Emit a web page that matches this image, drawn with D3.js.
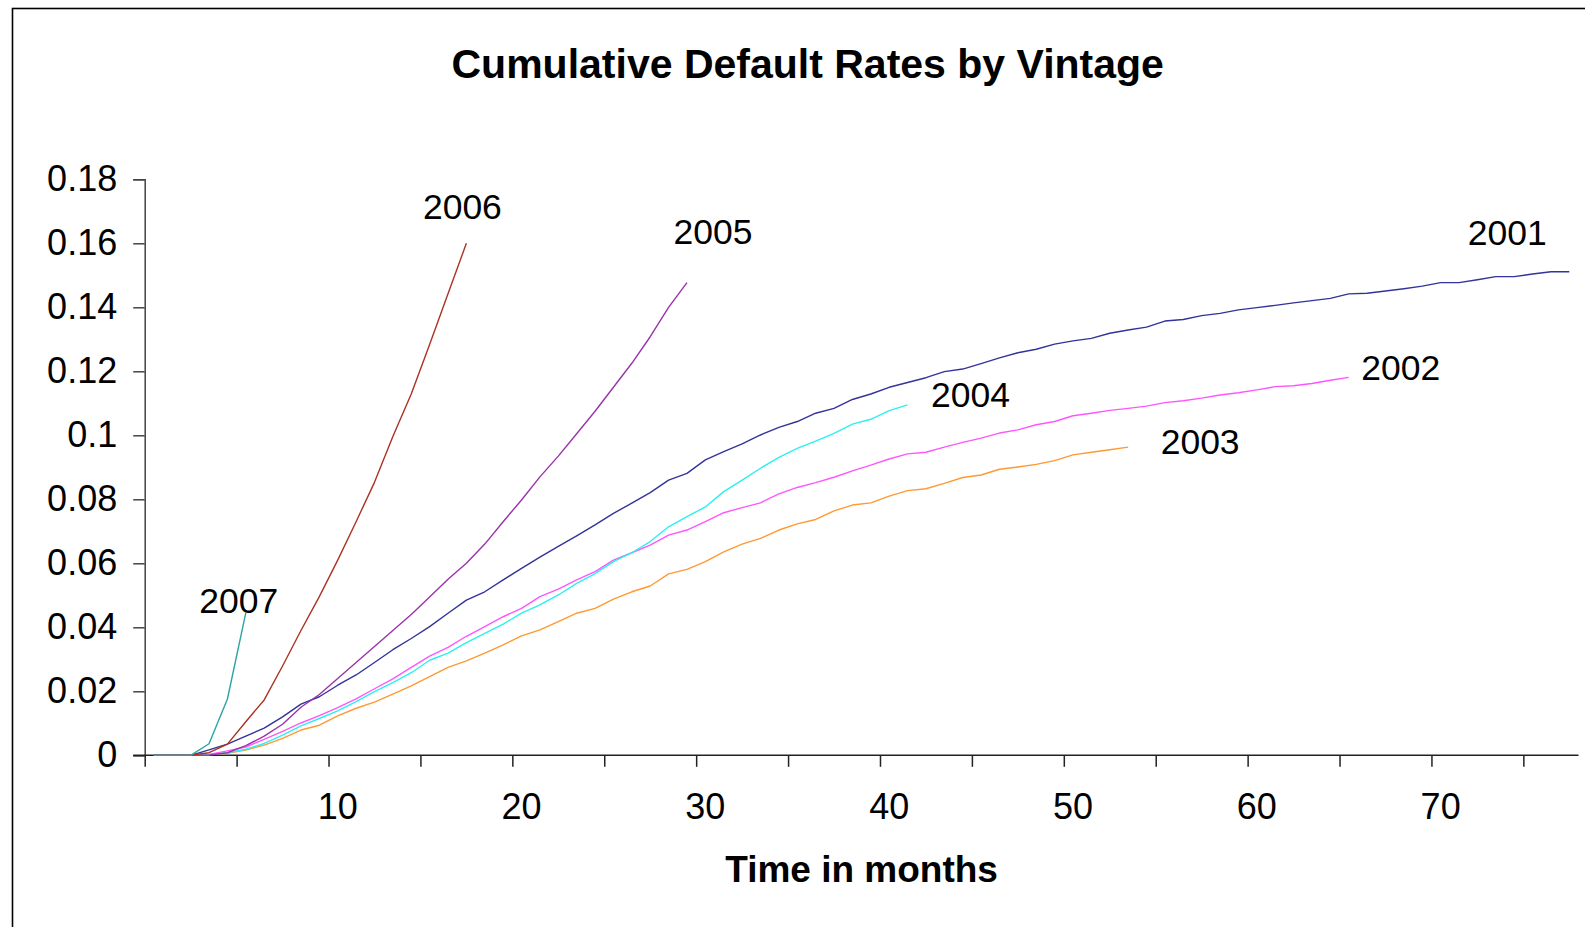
<!DOCTYPE html>
<html>
<head>
<meta charset="utf-8">
<script src="https://cdn.jsdelivr.net/npm/d3@7"></script>
<style>
  html, body { margin: 0; padding: 0; background: #ffffff; }
  svg { display: block; }
  text { font-family: "Liberation Sans", Arial, sans-serif; fill: #000; }
</style>
</head>
<body>
<svg id="chart" width="1585" height="927"></svg>
<script>
// Months on book (category axis)
const months = d3.range(0, 78);
const monthLabels = [10, 20, 30, 40, 50, 60, 70];
const monthTicks = [0, 5, 10, 15, 20, 25, 30, 35, 40, 45, 50, 55, 60, 65, 70, 75];
const rateTicks = [0, 0.02, 0.04, 0.06, 0.08, 0.1, 0.12, 0.14, 0.16, 0.18];
const rateTickLabels = ["0", "0.02", "0.04", "0.06", "0.08", "0.1", "0.12", "0.14", "0.16", "0.18"];

const vintages = ["2001", "2002", "2003", "2004", "2005", "2006", "2007"];

// Cumulative default rate per month, one array per vintage
const v2001 = [0,0,0,0.0017,0.0035,0.006,0.0085,0.012,0.016,0.0183,
  0.0219,0.0251,0.029,0.033,0.0365,0.0402,0.0444,0.0485,0.0511,0.0548,
  0.0584,0.0619,0.0653,0.0686,0.072,0.0756,0.0788,0.0821,0.086,0.0881,
  0.0923,0.0949,0.0973,0.1001,0.1025,0.1043,0.1069,0.1084,0.1112,0.1129,
  0.115,0.1165,0.118,0.1199,0.1207,0.1224,0.1242,0.1258,0.1269,0.1285,
  0.1295,0.1303,0.1319,0.1329,0.1338,0.1357,0.1362,0.1374,0.1381,0.1392,
  0.1399,0.1406,0.1414,0.1421,0.1428,0.1442,0.1444,0.1451,0.1458,0.1466,
  0.1477,0.1477,0.1486,0.1496,0.1496,0.1504,0.1511,0.1511];
const v2002 = [0,0,0,0.0003,0.0014,0.0026,0.005,0.0075,0.0101,0.0124,
  0.0149,0.0176,0.0208,0.0239,0.0275,0.031,0.0337,0.0372,0.0402,0.0433,
  0.0459,0.0496,0.0519,0.0548,0.0574,0.061,0.0633,0.0657,0.0688,0.0704,
  0.073,0.0758,0.0774,0.0789,0.0817,0.0837,0.0852,0.0869,0.0889,0.0907,
  0.0926,0.0942,0.0947,0.0963,0.0978,0.0991,0.1007,0.1017,0.1033,0.1043,
  0.1061,0.1069,0.1078,0.1084,0.1091,0.1102,0.1108,0.1116,0.1126,0.1133,
  0.1142,0.1152,0.1155,0.1162,0.1172,0.1181];
const v2003 = [0,0,0,0.0002,0.0006,0.0016,0.0032,0.0053,0.0079,0.0094,
  0.0123,0.0147,0.0166,0.0191,0.0217,0.0246,0.0275,0.0295,0.0319,0.0345,
  0.0373,0.0392,0.0418,0.0444,0.0459,0.0488,0.0511,0.0529,0.0567,0.0581,
  0.0605,0.0636,0.066,0.0678,0.0704,0.0723,0.0737,0.0764,0.0782,0.0789,
  0.081,0.0827,0.0833,0.085,0.0868,0.0876,0.0894,0.0901,0.0909,0.0921,
  0.0939,0.0947,0.0955,0.0963];
const v2004 = [0,0,0,0.0002,0.0008,0.0019,0.0037,0.0063,0.0092,0.0115,
  0.0139,0.0168,0.0199,0.0227,0.0258,0.0297,0.0319,0.0352,0.0381,0.041,
  0.0444,0.047,0.0501,0.0537,0.0568,0.0605,0.0633,0.0668,0.0714,0.0746,
  0.0776,0.0824,0.086,0.0897,0.0931,0.0959,0.0982,0.1006,0.1035,0.105,
  0.1077,0.1095];
const v2005 = [0,0,0,0.0001,0.0008,0.003,0.006,0.0097,0.015,0.019,
  0.024,0.029,0.034,0.039,0.044,0.0495,0.055,0.06,0.066,0.073,
  0.0798,0.087,0.0935,0.1005,0.1075,0.115,0.1225,0.1308,0.14,0.1477];
const v2006 = [0,0,0,0.0008,0.0035,0.0105,0.0173,0.0279,0.039,0.0496,
  0.061,0.073,0.0853,0.0996,0.1129,0.1284,0.1442,0.16];
const v2007 = [0,0,0,0.0036,0.0176,0.0445];

const seriesValues = [v2001, v2002, v2003, v2004, v2005, v2006, v2007];

// Styling
const colors = ["#333399", "#ff55ff", "#ff9933", "#2cf0f0", "#9933aa", "#aa3322", "#2aa5a5"];
// Year label placement relative to each line's last point (pixels)
const labelOffsets = [[-62, -39], [52, -10], [72, -6], [63, -10], [26, -51], [-4, -37], [-7, -12]];

const svg = d3.select("#chart");

// Outer chart frame
svg.append("rect")
  .attr("x", 12.5).attr("y", 8.5)
  .attr("width", 1700).attr("height", 1000)
  .attr("fill", "#fff").attr("stroke", "#000").attr("stroke-width", 1.6);

const plot = { left: 144.7, right: 1578.5, top: 179.3, bottom: 755.3 };

const x = d3.scaleBand().domain(months).range([plot.left, plot.right]).padding(0);
const xEdge = d3.scaleLinear().domain([0, months.length]).range([plot.left, plot.right]);
const y = d3.scaleLinear().domain([0, 0.18]).range([plot.bottom, plot.top]);

// Title
svg.append("text")
  .attr("x", 807.7).attr("y", 78)
  .attr("text-anchor", "middle")
  .style("font-size", "41px").style("font-weight", "bold")
  .text("Cumulative Default Rates by Vintage");

// Y axis
const yAxis = svg.append("g")
  .attr("transform", `translate(${plot.left},0)`)
  .call(d3.axisLeft(y)
    .tickValues(rateTicks)
    .tickFormat((d, i) => rateTickLabels[i])
    .tickSize(11.5).tickPadding(16));
yAxis.select(".domain").attr("stroke", "#444").attr("stroke-width", 1.5);
yAxis.selectAll(".tick line").attr("stroke", "#444").attr("stroke-width", 1.5);
yAxis.selectAll(".tick text").style("font-size", "36px").attr("fill", "#000");

// X axis: tick marks on category boundaries
const xTicksAxis = svg.append("g")
  .attr("transform", `translate(0,${plot.bottom})`)
  .call(d3.axisBottom(xEdge).tickValues(monthTicks).tickFormat("").tickSize(11.5).tickSizeOuter(0));
xTicksAxis.select(".domain").remove();
xTicksAxis.selectAll(".tick line").attr("stroke", "#222").attr("stroke-width", 1.5);

// X axis line (runs slightly past the y axis like a tick)
svg.append("line")
  .attr("x1", plot.left - 11.5).attr("x2", plot.right)
  .attr("y1", plot.bottom).attr("y2", plot.bottom)
  .attr("stroke", "#222").attr("stroke-width", 1.6);

// X labels centred on their month
const xLabelAxis = svg.append("g")
  .attr("transform", `translate(0,${plot.bottom})`)
  .call(d3.axisBottom(x).tickValues(monthLabels).tickSize(0).tickPadding(38));
xLabelAxis.select(".domain").remove();
xLabelAxis.selectAll(".tick text").style("font-size", "36px").attr("fill", "#000");

// X axis title
svg.append("text")
  .attr("x", (plot.left + plot.right) / 2).attr("y", 882)
  .attr("text-anchor", "middle")
  .style("font-size", "37px").style("font-weight", "bold")
  .text("Time in months");

// Lines
const line = d3.line()
  .x((d, i) => x(months[i]) + x.bandwidth() / 2)
  .y(d => y(d));

seriesValues.forEach((vals, k) => {
  svg.append("path")
    .datum(vals)
    .attr("fill", "none")
    .attr("stroke", colors[k])
    .attr("stroke-width", 1.4)
    .attr("stroke-linejoin", "round")
    .attr("d", line);
});

// Vintage labels near the end of each line
seriesValues.forEach((vals, k) => {
  const last = vals.length - 1;
  const cx = x(months[last]) + x.bandwidth() / 2 + labelOffsets[k][0];
  const cy = y(vals[last]) + labelOffsets[k][1];
  svg.append("text")
    .attr("x", cx).attr("y", cy + 12.5)
    .attr("text-anchor", "middle")
    .style("font-size", "35.5px")
    .text(vintages[k]);
});
</script>
</body>
</html>
